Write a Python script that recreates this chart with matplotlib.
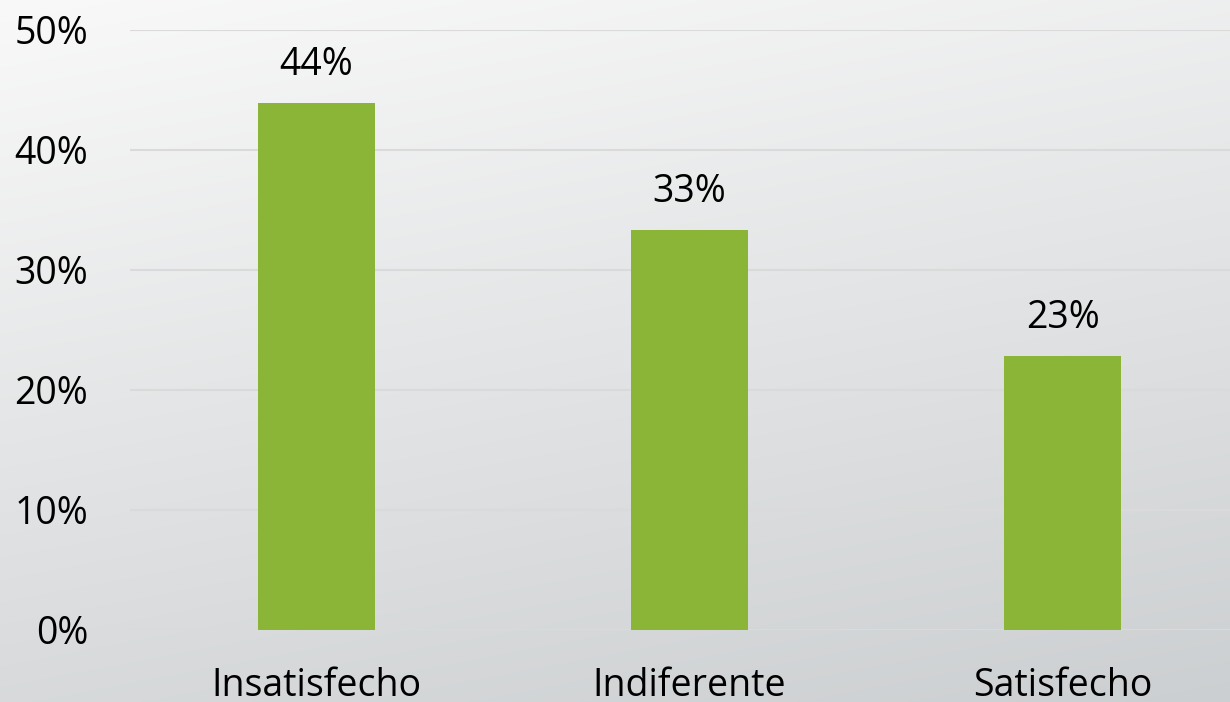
import numpy as np
import matplotlib.pyplot as plt

categories = ['Insatisfecho', 'Indiferente', 'Satisfecho']
values = [43.9, 33.3, 22.8]
labels = ['44%', '33%', '23%']
yticks = [0, 10, 20, 30, 40, 50]

plt.rcParams['font.family'] = ['Open Sans', 'DejaVu Sans']

fig = plt.figure(figsize=(12.3, 7.02), dpi=100)

# фон з градієнтом
bg = fig.add_axes([0, 0, 1, 1], zorder=0)
h, w = 702, 1230
yy, xx = np.mgrid[0:h, 0:w]
t = 0.75 * yy / h + 0.25 * xx / w
top = np.array([249, 249, 249]) / 255
bot = np.array([204, 207, 209]) / 255
img = top[None, None, :] * (1 - t[..., None]) + bot[None, None, :] * t[..., None]
bg.imshow(img, aspect='auto', extent=[0, 1, 0, 1])
bg.axis('off')

ax = fig.add_axes([130 / 1230, 72 / 702, 1119 / 1230, 600 / 702], zorder=1)
ax.patch.set_alpha(0)
x = np.arange(len(categories))
ax.bar(x, values, width=0.314, color='#8BB536', zorder=3)
for xi, v, lab in zip(x, values, labels):
    ax.text(xi, v + 1.6, lab, ha='center', va='bottom', fontsize=27, color='#000000')

ax.set_xlim(-0.5, 2.5)
ax.set_ylim(0, 50)
ax.set_yticks(yticks)
ax.set_yticklabels([f'{t}%' for t in yticks], fontsize=27)
ax.set_xticks(x)
ax.set_xticklabels(categories, fontsize=27)
ax.tick_params(axis='y', length=0, pad=30)
ax.tick_params(axis='x', length=0, pad=27)
ax.grid(axis='y', color='#dadada', linewidth=1.5, zorder=0)
ax.set_axisbelow(True)
for s in ax.spines.values():
    s.set_visible(False)

fig.savefig('out.png', dpi=100)
